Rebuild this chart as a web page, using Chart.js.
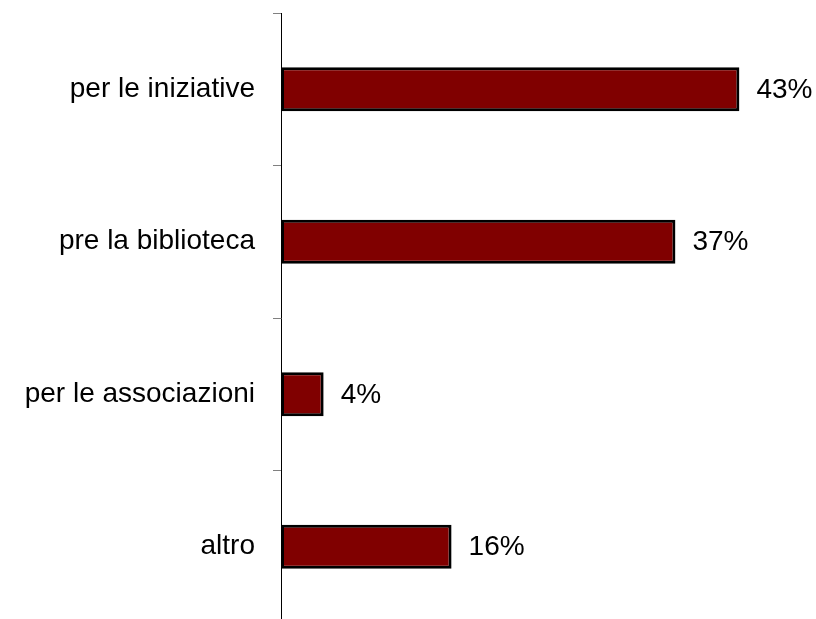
<!DOCTYPE html>
<html lang="it">
<head>
  <meta charset="UTF-8">
  <title>Motivi</title>
  <script src="https://cdn.jsdelivr.net/npm/chart.js"></script>
  <style>
    html, body {
      margin: 0;
      padding: 0;
      background: #fff;
      overflow: hidden;
    }
    canvas {
      display: block;
    }
  </style>
</head>
<body>
  <canvas id="chart" width="816" height="626"></canvas>

  <script>
    const categories = ['per le iniziative', 'pre la biblioteca', 'per le associazioni', 'altro'];
    const percentages = [43, 37, 4, 16];

    const FONT = "'Liberation Sans', Arial, sans-serif";

    // writes the percentage just right of each bar
    const valueLabels = {
      id: 'valueLabels',
      afterDatasetsDraw(chart) {
        const ctx = chart.ctx;
        const meta = chart.getDatasetMeta(0);
        ctx.save();
        ctx.font = '28px ' + FONT;
        ctx.fillStyle = '#000';
        ctx.textAlign = 'left';
        ctx.textBaseline = 'middle';
        meta.data.forEach((bar, i) => {
          ctx.fillText(percentages[i] + '%', bar.x + 17, bar.y + 1);
        });
        ctx.restore();
      }
    };

    const ctx = document.getElementById('chart').getContext('2d');
    new Chart(ctx, {
      type: 'bar',
      data: {
        labels: categories,
        datasets: [{
          data: percentages,
          backgroundColor: '#800000',
          borderColor: '#000',
          borderWidth: 3,
          borderSkipped: false,
          categoryPercentage: 1,
          barPercentage: 0.29
        }]
      },
      options: {
        indexAxis: 'y',
        responsive: false,
        animation: false,
        devicePixelRatio: 1,
        layout: {
          padding: { top: 13, right: 2, bottom: 3, left: 0 }
        },
        plugins: {
          legend: { display: false },
          tooltip: { enabled: false }
        },
        scales: {
          x: {
            display: false,
            min: 0,
            max: 50
          },
          y: {
            grid: {
              offset: true,
              drawOnChartArea: false,
              drawTicks: true,
              tickLength: 8,
              color: '#808080'
            },
            border: {
              display: true,
              color: '#000',
              width: 1
            },
            ticks: {
              color: '#000',
              padding: 18,
              font: { family: FONT, size: 28 }
            },
            afterFit(scale) {
              scale.width = 281;
              // labels sit mid-band, no extra room needed above/below
              scale.paddingTop = 0;
              scale.paddingBottom = 0;
            }
          }
        }
      },
      plugins: [valueLabels]
    });
  </script>
</body>
</html>
